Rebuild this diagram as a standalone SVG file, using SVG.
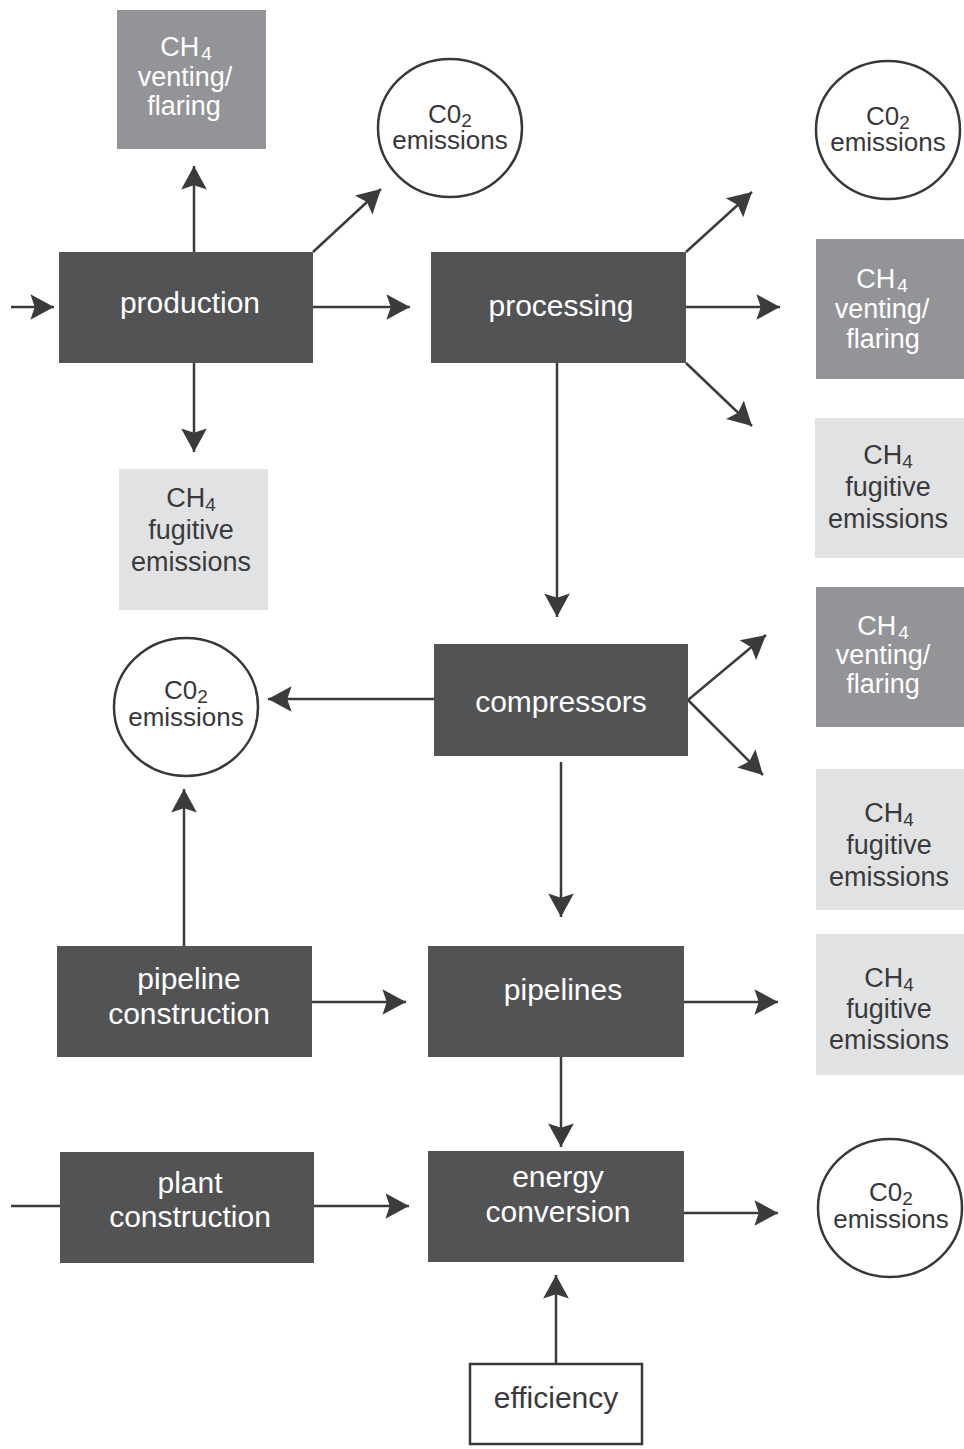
<svg xmlns="http://www.w3.org/2000/svg" width="964" height="1449" viewBox="0 0 964 1449">
  <defs>
    <marker id="head" markerUnits="userSpaceOnUse" markerWidth="30" markerHeight="30" viewBox="-24 -14 26 28" refX="0" refY="0" orient="auto" overflow="visible">
      <path d="M0,0 L-22,-12 L-18,0 L-22,12 Z" fill="#3b3b3d"/>
    </marker>
    <style>
      .proc rect { fill: #525355; }
      .proc text { fill: #ffffff; font-family: "Liberation Sans", Arial, sans-serif; font-size: 30px; text-anchor: middle; }
      .vent rect { fill: #939498; }
      .vent text { fill: #ffffff; font-family: "Liberation Sans", Arial, sans-serif; font-size: 27px; text-anchor: middle; }
      .fug rect { fill: #e1e2e4; }
      .fug text { fill: #3a3a3c; font-family: "Liberation Sans", Arial, sans-serif; font-size: 27px; text-anchor: middle; }
      .co2 ellipse { fill: #ffffff; stroke: #38383a; stroke-width: 2.5; }
      .co2 text { fill: #38383a; font-family: "Liberation Sans", Arial, sans-serif; font-size: 26px; text-anchor: middle; }
      .eff rect { fill: #ffffff; stroke: #38383a; stroke-width: 2.5; }
      .eff text { fill: #3a3a3c; font-family: "Liberation Sans", Arial, sans-serif; font-size: 30px; text-anchor: middle; }
      .sub { font-size: 19px; }
      #connectors line { stroke: #3b3b3d; stroke-width: 2.5; fill: none; }
      #connectors .arr { marker-end: url(#head); }
    </style>
  </defs>

  <rect width="964" height="1449" fill="#ffffff"/>

  <!-- connectors -->
  <g id="connectors">
    <line class="arr" x1="11" y1="307" x2="54" y2="307"/>
    <line class="arr" x1="194" y1="252" x2="194" y2="166"/>
    <line class="arr" x1="313" y1="252" x2="381" y2="189"/>
    <line class="arr" x1="313" y1="307" x2="410" y2="307"/>
    <line class="arr" x1="194" y1="363" x2="194" y2="452"/>

    <line class="arr" x1="686" y1="252" x2="752" y2="192"/>
    <line class="arr" x1="686" y1="307" x2="780" y2="307"/>
    <line class="arr" x1="686" y1="363" x2="752" y2="426"/>
    <line class="arr" x1="557" y1="363" x2="557" y2="617"/>

    <line class="arr" x1="434" y1="699" x2="268" y2="699"/>
    <line class="arr" x1="688" y1="700" x2="766" y2="635"/>
    <line class="arr" x1="688" y1="700" x2="763" y2="775"/>
    <line class="arr" x1="561" y1="762" x2="561" y2="917"/>

    <line class="arr" x1="184" y1="947" x2="184" y2="789"/>
    <line class="arr" x1="312" y1="1002" x2="406" y2="1002"/>
    <line class="arr" x1="684" y1="1002" x2="778" y2="1002"/>
    <line class="arr" x1="561" y1="1057" x2="561" y2="1147"/>

    <line x1="11" y1="1206" x2="60" y2="1206"/>
    <line class="arr" x1="314" y1="1206" x2="409" y2="1206"/>
    <line class="arr" x1="684" y1="1213" x2="778" y2="1213"/>
    <line class="arr" x1="556" y1="1364" x2="556" y2="1275"/>
  </g>

  <!-- process stages -->
  <g id="production" class="proc">
    <rect x="59" y="252" width="254" height="111"/>
    <text x="190" y="313">production</text>
  </g>
  <g id="processing" class="proc">
    <rect x="431" y="252" width="255" height="111"/>
    <text x="561" y="316">processing</text>
  </g>
  <g id="compressors" class="proc">
    <rect x="434" y="644" width="254" height="112"/>
    <text x="561" y="712">compressors</text>
  </g>
  <g id="pipeline-construction" class="proc">
    <rect x="57" y="946" width="255" height="111"/>
    <text><tspan x="189" y="989">pipeline</tspan><tspan x="189" y="1024">construction</tspan></text>
  </g>
  <g id="pipelines" class="proc">
    <rect x="428" y="946" width="256" height="111"/>
    <text x="563" y="1000">pipelines</text>
  </g>
  <g id="plant-construction" class="proc">
    <rect x="60" y="1152" width="254" height="111"/>
    <text><tspan x="190" y="1193">plant</tspan><tspan x="190" y="1227">construction</tspan></text>
  </g>
  <g id="energy-conversion" class="proc">
    <rect x="428" y="1151" width="256" height="111"/>
    <text><tspan x="558" y="1187">energy</tspan><tspan x="558" y="1222">conversion</tspan></text>
  </g>

  <!-- efficiency input -->
  <g id="efficiency" class="eff">
    <rect x="470" y="1364" width="172" height="80"/>
    <text x="556" y="1408">efficiency</text>
  </g>

  <!-- CH4 venting / flaring -->
  <g id="venting-production" class="vent">
    <rect x="117" y="10" width="149" height="139"/>
    <text><tspan x="186" y="56">CH</tspan><tspan class="sub" dx="2" dy="4">4</tspan><tspan x="185" y="86">venting/</tspan><tspan x="184" y="115">flaring</tspan></text>
  </g>
  <g id="venting-processing" class="vent">
    <rect x="816" y="239" width="148" height="140"/>
    <text><tspan x="882" y="288">CH</tspan><tspan class="sub" dx="2" dy="4">4</tspan><tspan x="882" y="318">venting/</tspan><tspan x="883" y="348">flaring</tspan></text>
  </g>
  <g id="venting-compressors" class="vent">
    <rect x="816" y="587" width="148" height="140"/>
    <text><tspan x="883" y="635">CH</tspan><tspan class="sub" dx="2" dy="4">4</tspan><tspan x="883" y="664">venting/</tspan><tspan x="883" y="693">flaring</tspan></text>
  </g>

  <!-- CH4 fugitive emissions -->
  <g id="fugitive-production" class="fug">
    <rect x="119" y="469" width="149" height="141"/>
    <text><tspan x="191" y="507">CH</tspan><tspan class="sub" dy="4">4</tspan><tspan x="191" y="539">fugitive</tspan><tspan x="191" y="571">emissions</tspan></text>
  </g>
  <g id="fugitive-processing" class="fug">
    <rect x="815" y="418" width="149" height="140"/>
    <text><tspan x="888" y="464">CH</tspan><tspan class="sub" dy="4">4</tspan><tspan x="888" y="496">fugitive</tspan><tspan x="888" y="528">emissions</tspan></text>
  </g>
  <g id="fugitive-compressors" class="fug">
    <rect x="816" y="769" width="148" height="141"/>
    <text><tspan x="889" y="822">CH</tspan><tspan class="sub" dy="4">4</tspan><tspan x="889" y="854">fugitive</tspan><tspan x="889" y="886">emissions</tspan></text>
  </g>
  <g id="fugitive-pipelines" class="fug">
    <rect x="816" y="934" width="148" height="141"/>
    <text><tspan x="889" y="987">CH</tspan><tspan class="sub" dy="4">4</tspan><tspan x="889" y="1018">fugitive</tspan><tspan x="889" y="1049">emissions</tspan></text>
  </g>

  <!-- CO2 emissions -->
  <g id="co2-production" class="co2">
    <ellipse cx="450" cy="128" rx="72" ry="69"/>
    <text><tspan x="450" y="123">C0</tspan><tspan class="sub" dy="4">2</tspan><tspan x="450" y="149">emissions</tspan></text>
  </g>
  <g id="co2-processing" class="co2">
    <ellipse cx="888" cy="130" rx="72" ry="69"/>
    <text><tspan x="888" y="125">C0</tspan><tspan class="sub" dy="4">2</tspan><tspan x="888" y="151">emissions</tspan></text>
  </g>
  <g id="co2-compressors" class="co2">
    <ellipse cx="186" cy="707" rx="72" ry="69"/>
    <text><tspan x="186" y="699">C0</tspan><tspan class="sub" dy="4">2</tspan><tspan x="186" y="726">emissions</tspan></text>
  </g>
  <g id="co2-energy" class="co2">
    <ellipse cx="890" cy="1208" rx="72" ry="69"/>
    <text><tspan x="891" y="1201">C0</tspan><tspan class="sub" dy="4">2</tspan><tspan x="891" y="1228">emissions</tspan></text>
  </g>
</svg>
